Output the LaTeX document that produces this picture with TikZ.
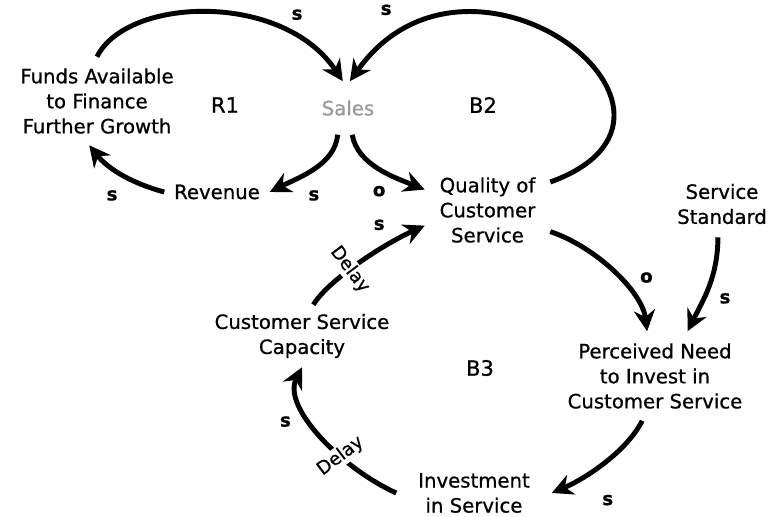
\documentclass[tikz,border=0pt]{standalone}
\usepackage{fontspec}
\setmainfont{DejaVu Sans}[FakeBold=0.8]
\usetikzlibrary{arrows.meta}

\tikzset{
  var/.style 2 args={inner sep=0pt, minimum width=#1*0.025cm,
    minimum height=#2*0.025cm, align=center,
    font=\fontsize{14}{17.8}\selectfont},
  link/.style={line width=3.5pt, -{Stealth[length=15pt,width=15pt]}},
  pol/.style={font=\fontsize{13}{15}\selectfont\bfseries},
  looptag/.style={font=\fontsize{15}{17}\selectfont},
  delay/.style={fill=white, inner sep=1pt, font=\fontsize{13}{15}\selectfont},
}

\begin{document}
\begin{tikzpicture}[x=0.025cm,y=-0.025cm]
  \useasboundingbox (0,0) rectangle (769,517);

  % Variables
  \node[var={170}{88}] (funds) at (97,101) {Funds Available\\to Finance\\Further Growth};
  \node[var={90}{53}, text=gray!80] (sales) at (348,108) {Sales};
  \node[var={105}{30}] (revenue) at (217,192) {Revenue};
  \node[var={125}{90}] (quality) at (487.5,210) {Quality of\\Customer\\Service};
  \node[var={100}{66}] (standard) at (722,204) {Service\\Standard};
  \node[var={190}{89}] (perceived) at (655,376) {Perceived Need\\to Invest in\\Customer Service};
  \node[var={155}{40}] (investment) at (474,493) {Investment\\in Service};
  \node[var={190}{62}] (capacity) at (302,336) {Customer Service\\Capacity};

  % Loop names
  \node[looptag] (r1) at (225,105) {R1};
  \node[looptag] (b2) at (483,105) {B2};
  \node[looptag] (b3) at (480,368) {B3};

  % R1 loop
  \draw[link] (funds.north) .. controls +(30,-60) and +(-60,-90) .. (sales.101)
    node[pos=0.8, above=8pt, pol] {s};
  \draw[link] (sales.-111) .. controls +(-3,30) and +(30,-15) .. (revenue.east)
    node[pos=0.5, below=10pt, pol] {s};
  \draw[link] (revenue.west) .. controls +(-30,-8) and +(20,25) .. (funds.-100)
    node[pos=0.65, below=11pt, pol] {s};

  % B2 loop
  \draw[link] (sales.-81) .. controls +(5,30) and +(-30,-12) .. (quality.162)
    node[pos=0.5, below=7pt, pol] {o};
  \draw[link] (quality.24) .. controls +(185,-67) and +(120,-169) .. (sales.86)
    node[pos=0.86, above left=6pt, pol] {s};

  % B3 loop
  \draw[link] (quality.-19) .. controls +(45,15) and +(-5,-40) .. (perceived.100)
    node[pos=0.55, right=10pt, pol] {o};
  \draw[link] (standard.-97) .. controls +(0,40) and +(15,-30) .. (perceived.54)
    node[pos=0.62, right=6pt, pol] {s};
  \draw[link] (perceived.-106) .. controls +(-15,30) and +(35,-15) .. (investment.east)
    node[pos=0.7, below right=8pt, pol] {s};
  \draw[link] (investment.west) .. controls +(-55,-25) and +(-20,40) .. (capacity.south)
    node[pos=0.35, rotate=37, delay] {Delay}
    node[pos=0.6, left=9pt, pol] {s};
  \draw[link] (capacity.70) .. controls +(15,-25) and +(-40,18) .. (quality.194)
    node[pos=0.42, rotate=-53, delay] {Delay}
    node[pos=0.65, above=9pt, pol] {s};
\end{tikzpicture}
\end{document}
